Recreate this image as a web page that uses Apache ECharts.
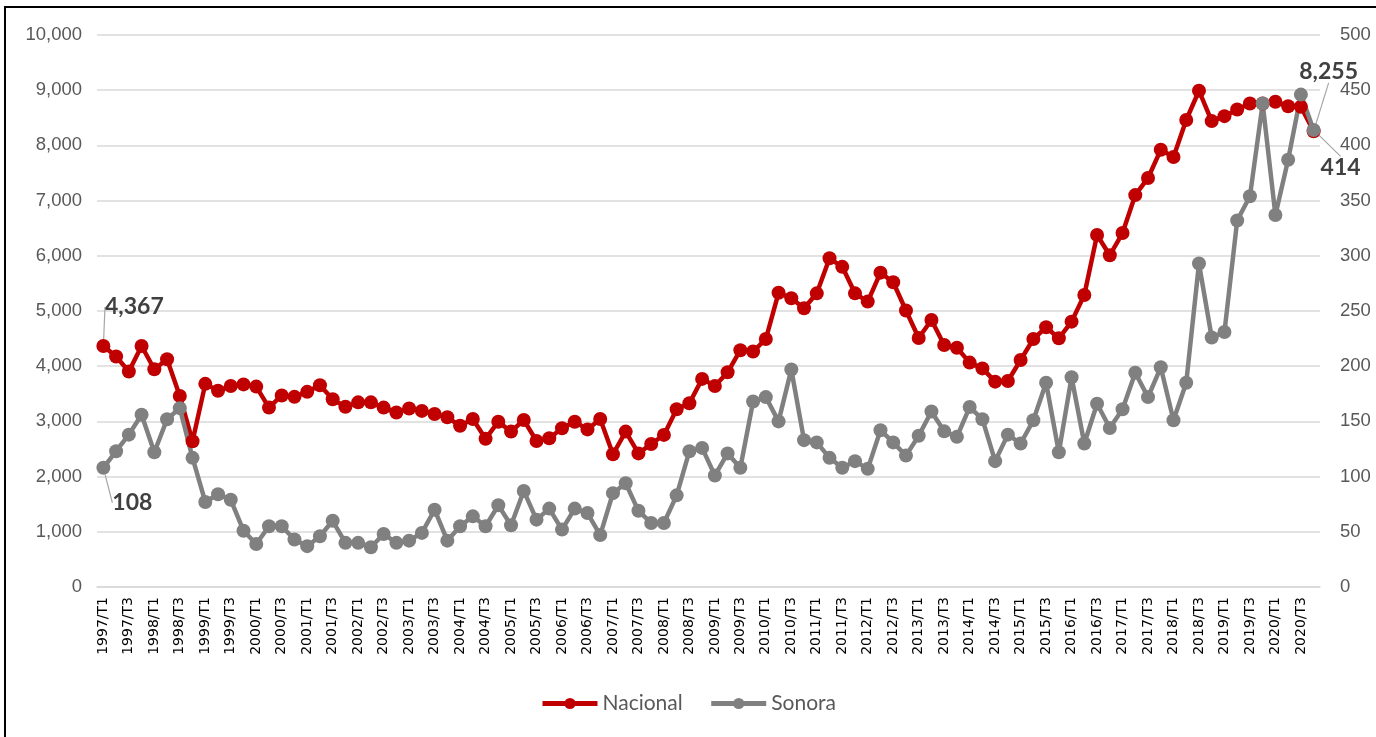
<!DOCTYPE html>
<html>
<head>
<meta charset="utf-8">
<script src="https://cdn.jsdelivr.net/npm/echarts@6/dist/echarts.min.js"></script>
<style>
html,body{margin:0;padding:0;background:#fff;width:1376px;height:737px;overflow:hidden;}
#frame{position:absolute;left:4px;top:6px;width:1400px;height:760px;border:2px solid #000;box-sizing:border-box;}
#chart{position:absolute;left:0;top:0;width:1376px;height:737px;}
</style>
</head>
<body>
<div id="frame"></div>
<div id="chart"></div>
<script>
var years = [1997,1998,1999,2000,2001,2002,2003,2004,2005,2006,2007,2008,2009,2010,2011,2012,2013,2014,2015,2016,2017,2018,2019,2020];
var quarters = ['T1','T2','T3','T4'];
var categories = [];
years.forEach(function(y){ quarters.forEach(function(q){ categories.push(y + '/' + q); }); });

var nacional = [
4367,4175,3905,4366, 3945,4125,3460,2640, 3680,3555,3640,3670, 3630,3250,3470,3445,
3535,3655,3400,3265, 3345,3345,3250,3160, 3235,3190,3135,3075, 2920,3043,2685,2995,
2815,3025,2645,2695, 2875,2995,2855,3043, 2405,2815,2420,2590, 2755,3220,3330,3770,
3640,3890,4290,4265, 4493,5330,5230,5050, 5320,5955,5800,5320, 5170,5695,5520,5010,
4510,4837,4385,4335, 4065,3960,3720,3732, 4112,4493,4705,4505, 4807,5290,6378,6010,
6412,7100,7410,7920, 7790,8460,8990,8440, 8530,8650,8760,8760, 8790,8710,8700,8255
];
var sonora = [
108,123,138,156, 122,152,162,117, 77,84,79,51, 39,55,55,43,
37,46,60,40, 40,36,48,40, 42,49,70,42, 55,64,55,74,
56,87,61,71, 52,71,67,47, 85,94,69,58, 58,83,123,126,
101,121,108,168, 172,150,197,133, 131,117,108,114, 107,142,131,119,
137,159,141,136, 163,152,114,138, 130,151,185,122, 190,130,166,144,
161,194,172,199, 151,185,293,226, 231,332,354,438, 337,387,446,414
];
var leftTicks = {min:0, max:10000, interval:1000};
var rightTicks = {min:0, max:500, interval:50};

var labelFont = {fontFamily:'Lato, "Liberation Sans", sans-serif', fontSize:23, fontWeight:'bold', color:'#404040'};

function buildData(arr){
  return arr.map(function(v, i){
    if (i === 0 || i === arr.length - 1) {
      return {value: v, label: Object.assign({show:true, position:'inside', formatter: function(p){ return echarts.format.addCommas(p.value); }}, labelFont)};
    }
    return v;
  });
}

function makeLayout(offsets){
  return function(p){
    var d = offsets[p.dataIndex];
    if (!d) return {};
    var r = p.labelRect, s = p.rect;
    var cx = r.x + r.width / 2 + d.dx;
    var cy = r.y + r.height / 2 + d.dy;
    var px = s.x + s.width / 2, py = s.y + s.height / 2;
    var end = d.dy < 0 ? [cx - 6, cy + r.height / 2 + 3] : [cx + 2, cy - r.height / 2 - 8];
    return {dx: d.dx, dy: d.dy, labelLinePoints: [[px, py], end, end]};
  };
}
var nacOffsets = {}; nacOffsets[0] = {dx:31, dy:-39}; nacOffsets[nacional.length - 1] = {dx:15, dy:-60};
var sonOffsets = {}; sonOffsets[0] = {dx:29, dy:35}; sonOffsets[sonora.length - 1] = {dx:27, dy:38};

var chart = echarts.init(document.getElementById('chart'));
var option = {
  animation: false,
  grid: {left: 97, right: 56, top: 35, bottom: 150, containLabel: false},
  legend: {
    bottom: 18, left: 'center', itemWidth: 55, itemHeight: 14, itemGap: 26,
    lineStyle: {width: 5},
    textStyle: {fontFamily:'Lato, "Liberation Sans", sans-serif', fontSize: 21, color:'#595959'},
    data: ['Nacional','Sonora']
  },
  xAxis: {
    type: 'category', data: categories, boundaryGap: true,
    axisLine: {show:true, lineStyle:{color:'#d9d9d9', width:1.5}},
    axisTick: {show:false},
    axisLabel: {interval: 1, rotate: 90, margin: 10, fontFamily:'"DejaVu Sans", sans-serif', fontSize: 14, color:'#000'}
  },
  yAxis: [
    {type:'value', min:leftTicks.min, max:leftTicks.max, interval:leftTicks.interval,
     axisLine:{show:false}, axisTick:{show:false},
     splitLine:{lineStyle:{color:'#d9d9d9', width:1.5}},
     axisLabel:{margin:15, fontFamily:'"Liberation Sans", sans-serif', fontSize:18.5, color:'#595959',
       formatter:function(v){return echarts.format.addCommas(v);}}},
    {type:'value', min:rightTicks.min, max:rightTicks.max, interval:rightTicks.interval,
     axisLine:{show:false}, axisTick:{show:false}, splitLine:{show:false},
     axisLabel:{margin:20, fontFamily:'"Liberation Sans", sans-serif', fontSize:18.5, color:'#595959'}}
  ],
  series: [
    {name:'Nacional', type:'line', yAxisIndex:0, data: buildData(nacional),
     symbol:'circle', symbolSize:14, showAllSymbol:true, itemStyle:{color:'#C00000'}, lineStyle:{color:'#C00000', width:4.5},
     labelLine:{show:true, lineStyle:{color:'#a6a6a6', width:1.2}},
     labelLayout: makeLayout(nacOffsets)},
    {name:'Sonora', type:'line', yAxisIndex:1, data: buildData(sonora),
     symbol:'circle', symbolSize:14, showAllSymbol:true, itemStyle:{color:'#808080'}, lineStyle:{color:'#808080', width:4.5},
     labelLine:{show:true, lineStyle:{color:'#a6a6a6', width:1.2}},
     labelLayout: makeLayout(sonOffsets)}
  ]
};
chart.setOption(option);
</script>
</body>
</html>
